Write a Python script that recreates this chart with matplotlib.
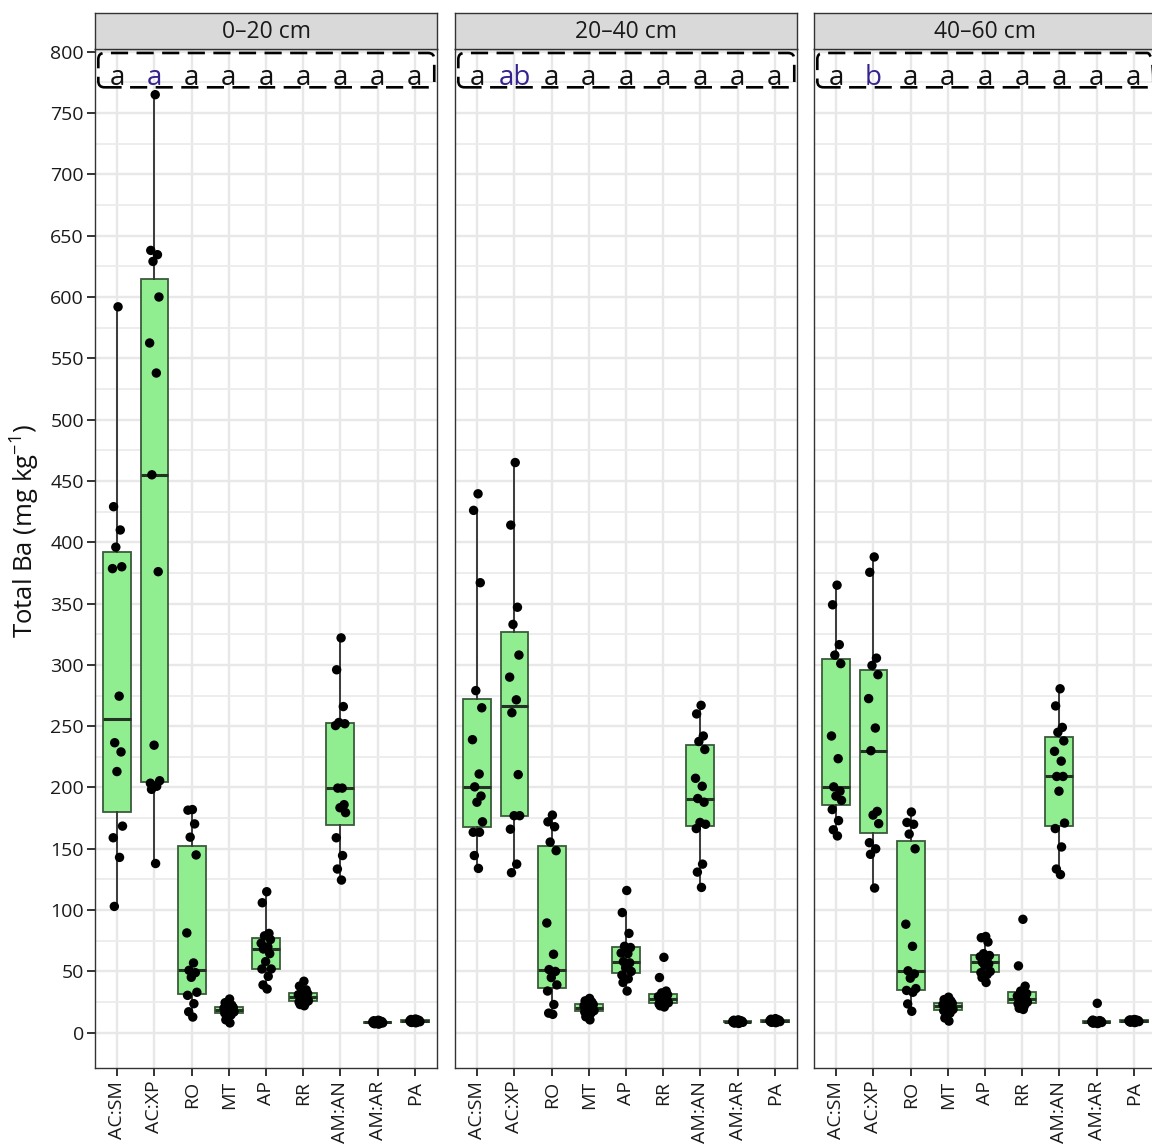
import matplotlib
matplotlib.use("Agg")
import matplotlib.pyplot as plt
from matplotlib.patches import FancyBboxPatch
from matplotlib.transforms import blended_transform_factory

plt.rcParams["font.family"] = ["Open Sans", "DejaVu Sans"]
plt.rcParams["mathtext.fontset"] = "custom"
plt.rcParams["mathtext.rm"] = "Open Sans"
plt.rcParams["mathtext.it"] = "Open Sans:italic"
plt.rcParams["mathtext.bf"] = "Open Sans:bold"

# ---------------------------------------------------------------- data
groups = ["AC:SM", "AC:XP", "RO", "MT", "AP", "RR", "AM:AN", "AM:AR", "PA"]
depths = ["0\u201320 cm", "20\u201340 cm", "40\u201360 cm"]

# Total Ba (mg/kg) per sample, one list per group, for each depth
ba_0_20 = [
    [592, 429, 410, 396, 380, 378.5, 274.5, 236.5, 229, 213, 168.5, 159, 143, 103],
    [765, 638, 634.5, 629, 600, 562.5, 538, 455, 376, 234.5, 205.5, 203.5, 201, 198.5, 138],
    [182, 181.5, 170.3, 159.5, 145, 81.4, 56.9, 50.9, 49, 45.2, 33, 30.5, 23.7, 17.1, 12.8],
    [27.5, 24.5, 22.5, 21, 20.5, 20, 19.5, 18.5, 18, 17.5, 17, 16, 14.5, 10.5, 8],
    [115, 106, 81, 79, 76, 73, 70, 68.3, 64.5, 58, 52, 52, 46, 39, 35.7],
    [42, 38, 35, 33, 32, 31, 30, 29, 28.5, 27, 26, 25, 24, 23, 22],
    [322, 296, 266, 253, 252, 250.5, 199.5, 199.5, 186, 183.5, 179.5, 159, 144.5, 133.5, 124.5],
    [10.2, 9.8, 9.5, 9.2, 9.0, 8.8, 8.6, 8.5, 8.3, 8.1, 8.0, 7.8, 7.6, 7.3, 7.0],
    [11.2, 10.8, 10.5, 10.2, 10.0, 9.8, 9.6, 9.5, 9.3, 9.1, 9.0, 8.8, 8.6, 8.4, 8.1],
]
ba_20_40 = [
    [439.5, 426, 367, 279, 265, 239, 211, 200.5, 193, 188, 172, 163.5, 163.5, 144.5, 134],
    [465, 414, 347, 333, 308, 290, 271.5, 261, 210.5, 177, 177, 166, 137.5, 130.5],
    [177.5, 172, 168, 155.5, 148.5, 89.5, 64, 51.5, 50, 45, 39, 34, 23, 16, 15],
    [28, 26, 25, 24, 23, 22, 21, 20, 20, 19, 18, 17, 16, 13, 10.5],
    [116, 98, 81, 70.5, 69.5, 65, 64.5, 58, 57, 53, 50, 47, 44, 41, 34],
    [61.5, 45, 34, 32.5, 31, 29.5, 28, 27.2, 26.5, 25.5, 24.5, 23.5, 23, 22, 21],
    [267, 260, 242, 237.5, 231, 207.5, 201, 191, 188, 171.5, 170, 166.5, 137.5, 131, 118.5],
    [10.5, 10.2, 9.8, 9.6, 9.4, 9.2, 9.1, 9.0, 8.9, 8.7, 8.5, 8.3, 8.1, 7.9, 7.6],
    [11.5, 11.0, 10.6, 10.3, 10.1, 9.9, 9.7, 9.6, 9.5, 9.3, 9.1, 9.0, 8.8, 8.5, 8.2],
]
ba_40_60 = [
    [365, 349, 316.5, 308, 301, 242, 223.5, 200.5, 197, 193, 189.5, 182, 173, 165.5, 160.5],
    [388, 375.5, 305.5, 299.5, 292, 272.5, 248.5, 230, 180.5, 177.5, 170.5, 155, 150, 145.5, 118],
    [180, 171.5, 170, 162, 150, 88.5, 70.5, 50.5, 48, 44.5, 36, 34.5, 33, 23.5, 17.5],
    [29, 27, 26, 25, 24, 23, 22, 21.5, 21, 20, 19, 18, 16, 12, 9.5],
    [78.5, 77.5, 74, 64.5, 63, 62, 60, 57.5, 56, 55, 50, 49, 47.5, 45, 41],
    [92.5, 54.5, 38, 34, 32, 30, 29, 27.6, 27, 26, 25, 23.5, 22, 20, 19],
    [280.5, 266.5, 249, 245, 238, 229.5, 221.5, 209, 209, 197, 171, 166.5, 151.5, 133.5, 129],
    [24, 10.3, 9.9, 9.6, 9.4, 9.2, 9.0, 8.9, 8.8, 8.6, 8.4, 8.2, 8.0, 7.8, 7.5],
    [10.8, 10.5, 10.3, 10.1, 9.9, 9.8, 9.6, 9.5, 9.4, 9.2, 9.1, 9.0, 8.8, 8.6, 8.3],
]
panel_data = [ba_0_20, ba_20_40, ba_40_60]

# significance letters per group and the group whose letter is highlighted
letters_0_20 = ["a", "a", "a", "a", "a", "a", "a", "a", "a"]
letters_20_40 = ["a", "ab", "a", "a", "a", "a", "a", "a", "a"]
letters_40_60 = ["a", "b", "a", "a", "a", "a", "a", "a", "a"]
panel_letters = [letters_0_20, letters_20_40, letters_40_60]
highlight_group = "AC:XP"

y_ticks = list(range(0, 801, 50))

# ---------------------------------------------------------------- layout
W, H = 1152, 1146
fig = plt.figure(figsize=(W / 100, H / 100), dpi=100)
fig.patch.set_facecolor("white")

panel_left_px = [95, 455, 814]
panel_w_px = 342
panel_top_px, panel_bot_px = 49.3, 1068.3
strip_top_px = 12.7

# horizontal spread of the jittered points (fraction of a category)
jitter = [0.02, -0.10, 0.08, -0.04, 0.12, -0.13, 0.05, -0.07,
          0.10, -0.01, 0.14, -0.11, 0.06, -0.08, 0.03]

box_fill = "#90EE90"
box_edge = "#3B5B3B"
ink = "#333333"
hi_color = "#36218F"

positions = list(range(1, len(groups) + 1))

for p, left in enumerate(panel_left_px):
    ax = fig.add_axes([left / W, (H - panel_bot_px) / H,
                       panel_w_px / W, (panel_bot_px - panel_top_px) / H])
    ax.set_facecolor("white")

    data = panel_data[p]
    ax.boxplot(data, positions=positions, widths=0.75, whis=1.5,
               showfliers=False, showcaps=False, patch_artist=True,
               boxprops=dict(facecolor=box_fill, edgecolor=box_edge, lw=1.3),
               medianprops=dict(color="#243224", lw=2.2),
               whiskerprops=dict(color="#3A3A3A", lw=1.4),
               zorder=2)

    for g, vals in enumerate(data):
        xs = [positions[g] + jitter[k % len(jitter)] for k in range(len(vals))]
        ax.scatter(xs, vals, s=46, color="black", edgecolors="none", zorder=4)

    ax.set_xlim(0.4, 9.6)
    ax.set_ylim(-29, 802)
    ax.set_yticks(y_ticks)
    ax.set_yticks([v + 25 for v in y_ticks[:-1]], minor=True)
    ax.set_xticks(positions)
    ax.set_xticklabels(groups, rotation=90, fontsize=14, color="#1A1A1A")
    ax.grid(which="major", color="#E8E8E8", lw=1.7)
    ax.grid(which="minor", axis="y", color="#ECECEC", lw=1.3)
    ax.set_axisbelow(True)

    ax.tick_params(axis="x", length=6, width=1.4, color=ink, pad=3)
    ax.tick_params(axis="y", which="minor", length=0)
    if p == 0:
        ax.set_yticklabels([str(v) for v in y_ticks], fontsize=14, color="#1A1A1A")
        ax.tick_params(axis="y", which="major", length=6, width=1.4, color=ink, pad=2)
    else:
        ax.tick_params(axis="y", which="major", length=0, labelleft=False)

    for s in ax.spines.values():
        s.set_color(ink)
        s.set_linewidth(1.0)

    # significance letters in a dashed rounded frame
    trans = blended_transform_factory(ax.transAxes, ax.transData)
    frame = FancyBboxPatch((0.0097, 771), 0.9823, 28,
                           boxstyle="round,pad=0,rounding_size=0.018",
                           mutation_aspect=panel_w_px / 1.226,
                           transform=trans, facecolor="none", edgecolor="black",
                           lw=1.9, linestyle=(0, (6.5, 3.2)), zorder=5,
                           clip_on=False)
    ax.add_patch(frame)
    for g, lab in enumerate(panel_letters[p]):
        col = hi_color if groups[g] == highlight_group else "#111111"
        ax.text(positions[g], 773, lab, ha="center", va="baseline",
                fontsize=20, color=col, zorder=6)

    # facet strip
    sax = fig.add_axes([left / W, (H - panel_top_px) / H,
                        panel_w_px / W, (panel_top_px - strip_top_px) / H])
    sax.set_facecolor("#D9D9D9")
    sax.set_xticks([])
    sax.set_yticks([])
    for s in sax.spines.values():
        s.set_color(ink)
        s.set_linewidth(1.0)
    sax.text(0.5, 0.47, depths[p], ha="center", va="center",
             fontsize=16.5, color="#1A1A1A", transform=sax.transAxes)

fig.text(25 / W, (H - 531) / H, "Total Ba (mg kg$^{\\mathrm{-1}}$)",
         rotation=90, ha="center", va="center", fontsize=18.5, color="#111111")

fig.savefig("out.png", dpi=100)
